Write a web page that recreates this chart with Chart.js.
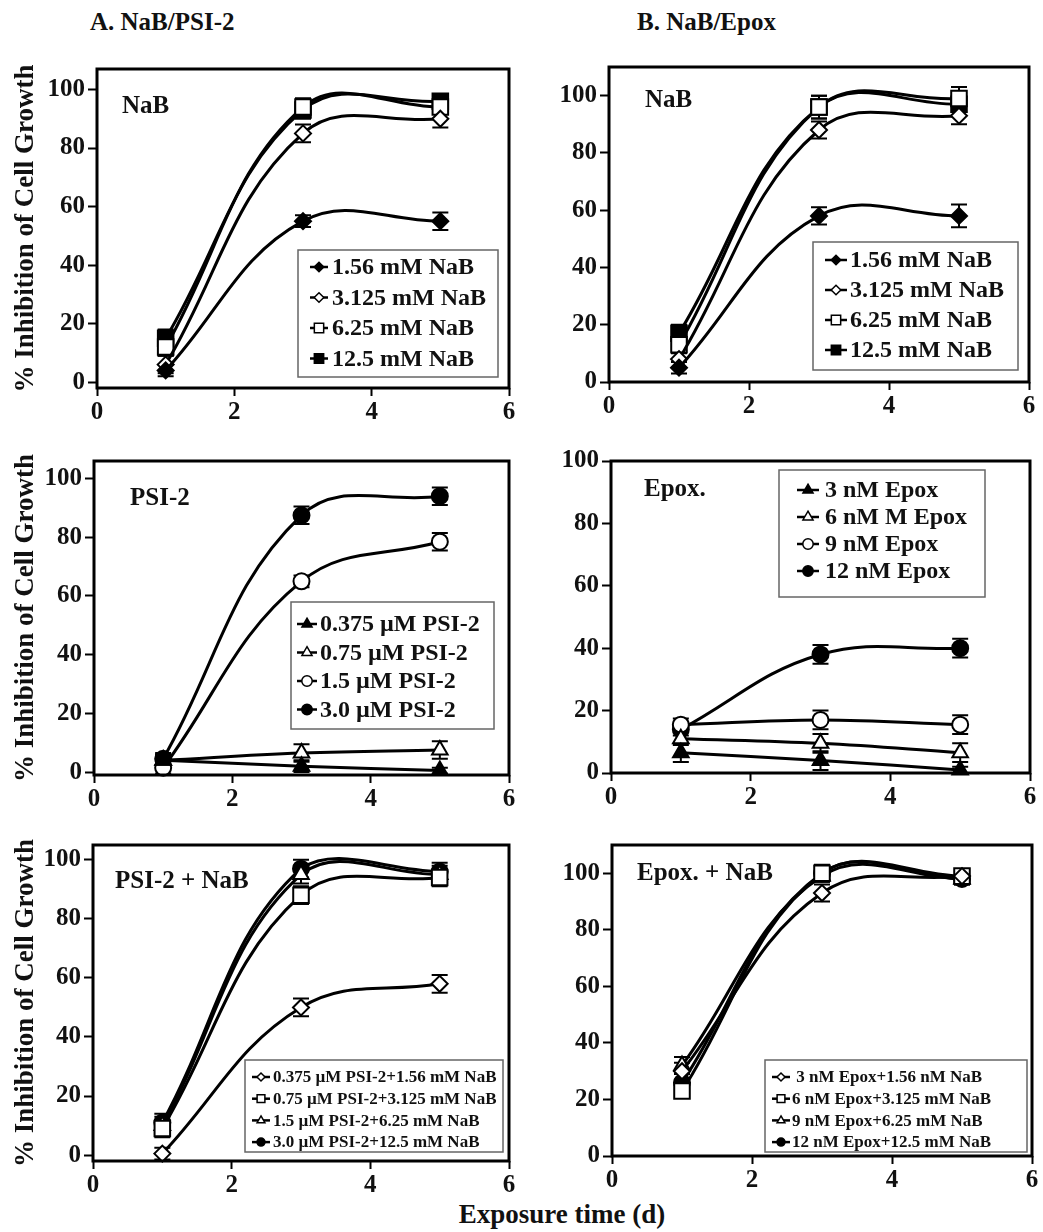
<!DOCTYPE html>
<html>
<head>
<meta charset="utf-8">
<script src="https://cdn.jsdelivr.net/npm/chart.js@4/dist/chart.umd.min.js"></script>
<style>
  html, body { margin: 0; padding: 0; background: #fff; overflow: hidden; }
  #page { position: relative; width: 1043px; height: 1232px; }
  canvas { position: absolute; }
  .lbl { position: absolute; font: bold 25px 'Liberation Serif', 'Times New Roman', serif; color: #111; white-space: nowrap; }
</style>
</head>
<body>
<div id="page">
  <div class="lbl" style="left:90px;top:8px">A. NaB/PSI-2</div>
  <div class="lbl" style="left:637px;top:8px">B. NaB/Epox</div>
  <div class="lbl" style="left:562px;top:1199px;font-size:27px;transform:translateX(-50%)">Exposure time (d)</div>
  <canvas id="a1"></canvas>
  <canvas id="b1"></canvas>
  <canvas id="a2"></canvas>
  <canvas id="b2"></canvas>
  <canvas id="a3"></canvas>
  <canvas id="b3"></canvas>
</div>
<script>
// --- data ---
const days = [1, 3, 5];
const xTicks = [0, 2, 4, 6];
const yTicks = [0, 20, 40, 60, 80, 100];

const nabLabels = ['1.56 mM NaB', '3.125 mM NaB', '6.25 mM NaB', '12.5 mM NaB'];
const nabA = [[4, 55, 55], [6, 85, 90], [12, 94, 94], [15, 93, 96]];
const nabAErr = [[2, 2, 3], [3, 3, 3], [3, 3, 2], [3, 3, 2]];
const nabB = [[5, 58, 58], [8, 88, 93], [13, 96, 99], [17, 96, 97]];
const nabBErr = [[2, 3, 4], [3, 3, 3], [3, 4, 4], [3, 4, 4]];

const psiLabels = ['0.375 µM PSI-2', '0.75 µM PSI-2', '1.5 µM PSI-2', '3.0 µM PSI-2'];
const psi = [[4, 2, 0.5], [4, 6.5, 7.5], [1.5, 65, 78.5], [4.5, 87.5, 94]];
const psiErr = [[2, 2, 1], [2, 3, 3], [2, 2, 3], [2, 3, 3]];

const epoxLabels = ['3 nM Epox', '6 nM M Epox', '9 nM Epox', '12 nM Epox'];
const epox = [[6.5, 4, 1], [11, 9.5, 6.5], [15.5, 17, 15.5], [14, 38, 40]];
const epoxErr = [[3, 3, 1], [2, 3, 3], [2, 3, 3], [2, 3, 3]];

const psiNabLabels = ['0.375 µM PSI-2+1.56 mM NaB', '0.75 µM PSI-2+3.125 mM NaB', '1.5 µM PSI-2+6.25 mM NaB', '3.0 µM PSI-2+12.5 mM NaB'];
const psiNab = [[0.5, 50, 58], [9, 88, 94], [10, 95, 95], [11, 97, 96]];
const psiNabErr = [[2, 3, 3], [3, 3, 3], [3, 3, 3], [3, 3, 3]];

const epoxNabLabels = [' 3 nM Epox+1.56 nM NaB', '6 nM Epox+3.125 mM NaB', '9 nM Epox+6.25 mM NaB', '12 nM Epox+12.5 mM NaB'];
const epoxNab = [[30, 93, 99], [23, 100, 99], [32, 99, 98], [26, 100, 98]];
const epoxNabErr = [[3, 3, 2], [2, 3, 2], [3, 2, 2], [3, 2, 2]];

// --- styles ---
const FONT = "'Liberation Serif', 'Times New Roman', serif";
const INK = '#111';
const markStyles = {
  fdia: { style: 'rectRot', fill: '#000', r: 8 },
  odia: { style: 'rectRot', fill: '#fff', r: 8 },
  osq: { style: 'rect', fill: '#fff', r: 11 },
  fsq: { style: 'rect', fill: '#000', r: 11 },
  ftri: { style: 'triangle', fill: '#000', r: 9 },
  otri: { style: 'triangle', fill: '#fff', r: 9 },
  ocir: { style: 'circle', fill: '#fff', r: 8 },
  fcir: { style: 'circle', fill: '#000', r: 8 }
};

// error bars behind the markers
const errorBars = {
  id: 'errorBars',
  beforeDatasetsDraw(chart) {
    const ctx = chart.ctx, xs = chart.scales.x, ys = chart.scales.y;
    ctx.save();
    ctx.strokeStyle = '#000';
    ctx.lineWidth = 2;
    chart.data.datasets.forEach(ds => {
      ds.data.forEach((p, i) => {
        const e = ds.err[i];
        if (!e) return;
        const x = xs.getPixelForValue(p.x);
        const y1 = ys.getPixelForValue(p.y + e), y2 = ys.getPixelForValue(p.y - e);
        ctx.beginPath();
        ctx.moveTo(x, y1); ctx.lineTo(x, y2);
        ctx.moveTo(x - 8, y1); ctx.lineTo(x + 8, y1);
        ctx.moveTo(x - 8, y2); ctx.lineTo(x + 8, y2);
        ctx.stroke();
      });
    });
    ctx.restore();
  }
};

// heavy box round the plot area
const frame = {
  id: 'frame',
  afterDatasetsDraw(chart) {
    const ctx = chart.ctx, a = chart.chartArea;
    ctx.save();
    ctx.strokeStyle = '#000';
    ctx.lineWidth = 3;
    ctx.strokeRect(a.left, a.top, a.right - a.left, a.bottom - a.top);
    ctx.restore();
  }
};

// boxed legend + panel tag inside the plot
const boxLegend = {
  id: 'boxLegend',
  afterDraw(chart, args, o) {
    const ctx = chart.ctx, a = chart.chartArea;
    const bx = a.left + o.x, by = a.top + o.y;
    ctx.save();
    ctx.font = 'bold 25px ' + FONT;
    ctx.fillStyle = INK;
    ctx.textBaseline = 'middle';
    ctx.fillText(o.tag[0], a.left + o.tag[1], a.top + o.tag[2]);

    ctx.strokeStyle = '#666';
    ctx.lineWidth = 1.5;
    ctx.strokeRect(bx, by, o.w, o.h);
    ctx.font = 'bold ' + o.size + 'px ' + FONT;
    chart.data.datasets.forEach((ds, k) => {
      const y = by + o.first + k * o.row;
      const x0 = bx + o.lineX;
      ctx.strokeStyle = '#000';
      ctx.lineWidth = 2.5;
      ctx.beginPath();
      ctx.moveTo(x0, y);
      ctx.lineTo(x0 + o.lineLen, y);
      ctx.stroke();
      ctx.fillStyle = ds.pointBackgroundColor;
      ctx.lineWidth = 1.5;
      Chart.helpers.drawPoint(ctx, { pointStyle: ds.pointStyle, radius: ds.pointRadius * o.mark, rotation: 0, borderWidth: 1.5 }, x0 + o.lineLen / 2, y);
      ctx.fillStyle = INK;
      ctx.fillText(ds.label, bx + o.textX, y + 1);
    });
    ctx.restore();
  }
};

function panel(id, cfg) {
  const cv = document.getElementById(id);
  const [L, T, R, B] = cfg.box;
  const left = L < 300 ? 0 : 540;
  cv.width = R + 16 - left;
  cv.height = B - T + 16 + 44;
  cv.style.left = left + 'px';
  cv.style.top = (T - 16) + 'px';

  const datasets = cfg.values.map((vals, k) => {
    const m = markStyles[cfg.marks[k]];
    return {
      label: cfg.labels[k],
      data: days.map((d, i) => ({ x: d, y: vals[i] })),
      err: cfg.errs[k],
      borderColor: '#000',
      borderWidth: 3,
      pointStyle: m.style,
      pointRadius: m.r,
      pointBackgroundColor: m.fill,
      pointBorderColor: '#000',
      pointBorderWidth: 2,
      tension: 0.4,
      clip: false
    };
  });

  const tickFont = { family: FONT, size: 25, weight: 'bold' };
  new Chart(cv, {
    type: 'line',
    data: { datasets },
    options: {
      responsive: false,
      animation: false,
      events: [],
      layout: { padding: { left: 0, top: 16, right: 16, bottom: 0 } },
      scales: {
        x: {
          type: 'linear', min: 0, max: 6,
          afterBuildTicks: s => { s.ticks = xTicks.map(v => ({ value: v })); },
          afterFit: s => { s.height = 44; },
          grid: { drawOnChartArea: false, drawTicks: true, tickLength: 8, tickWidth: 2, tickColor: '#000' },
          border: { display: false },
          ticks: { font: tickFont, color: INK, padding: 2, maxRotation: 0, autoSkip: false }
        },
        y: {
          min: cfg.yRange[0], max: cfg.yRange[1],
          afterBuildTicks: s => { s.ticks = yTicks.map(v => ({ value: v })); },
          afterFit: s => { s.width = L - left; },
          grid: { drawOnChartArea: false, drawTicks: true, tickLength: 9, tickWidth: 2, tickColor: '#000' },
          border: { display: false },
          ticks: { font: tickFont, color: INK, padding: 3 },
          title: {
            display: left === 0,
            text: '% Inhibition of Cell Growth',
            color: INK,
            font: { family: FONT, size: 27, weight: 'bold' },
            padding: { top: 10, bottom: 0 }
          }
        }
      },
      plugins: {
        legend: { display: false },
        tooltip: { enabled: false },
        boxLegend: cfg.legend
      }
    },
    plugins: [errorBars, frame, boxLegend]
  });
}

panel('a1', {
  box: [97, 67, 509, 388], yRange: [-2, 107],
  values: nabA, errs: nabAErr, labels: nabLabels, marks: ['fdia', 'odia', 'osq', 'fsq'],
  legend: { x: 201, y: 181, w: 200, h: 127, first: 17, row: 30.5, lineX: 12, lineLen: 18, textX: 34, size: 24, mark: 0.6, tag: ['NaB', 25, 38] }
});
panel('b1', {
  box: [609, 65, 1029, 382], yRange: [0, 110],
  values: nabB, errs: nabBErr, labels: nabLabels, marks: ['fdia', 'odia', 'osq', 'fsq'],
  legend: { x: 204, y: 175, w: 205, h: 128, first: 18, row: 30, lineX: 12, lineLen: 22, textX: 37, size: 24, mark: 0.6, tag: ['NaB', 36, 34] }
});
panel('a2', {
  box: [94, 459, 509, 775], yRange: [-1, 106],
  values: psi, errs: psiErr, labels: psiLabels, marks: ['ftri', 'otri', 'ocir', 'fcir'],
  legend: { x: 197, y: 141, w: 203, h: 127, first: 22, row: 28.5, lineX: 6, lineLen: 20, textX: 29, size: 24, mark: 0.65, tag: ['PSI-2', 36, 38] }
});
panel('b2', {
  box: [611, 459, 1030, 773], yRange: [0, 100],
  values: epox, errs: epoxErr, labels: epoxLabels, marks: ['ftri', 'otri', 'ocir', 'fcir'],
  legend: { x: 168, y: 9, w: 206, h: 127, first: 20, row: 27, lineX: 18, lineLen: 22, textX: 46, size: 24, mark: 0.65, tag: ['Epox.', 33, 29] }
});
panel('a3', {
  box: [93, 843, 509, 1161], yRange: [-2, 105],
  values: psiNab, errs: psiNabErr, labels: psiNabLabels, marks: ['odia', 'osq', 'otri', 'fcir'],
  legend: { x: 152, y: 215, w: 258, h: 92, first: 17, row: 21.7, lineX: 7, lineLen: 18, textX: 28, size: 17, mark: 0.5, tag: ['PSI-2 + NaB', 22, 37] }
});
panel('b3', {
  box: [612, 843, 1032, 1156], yRange: [0, 110],
  values: epoxNab, errs: epoxNabErr, labels: epoxNabLabels, marks: ['odia', 'osq', 'otri', 'fcir'],
  legend: { x: 153, y: 215, w: 262, h: 92, first: 17, row: 21.7, lineX: 7, lineLen: 18, textX: 27, size: 17, mark: 0.5, tag: ['Epox. + NaB', 25, 29] }
});
</script>
</body>
</html>
